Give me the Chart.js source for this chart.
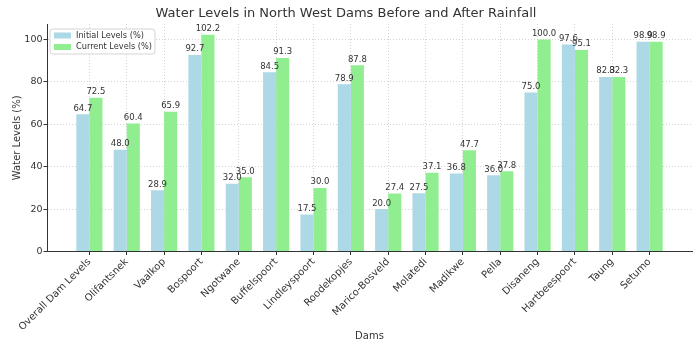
<!DOCTYPE html>
<html>
<head>
<meta charset="utf-8">
<title>Water Levels in North West Dams</title>
<script src="https://cdn.jsdelivr.net/npm/chart.js@4/dist/chart.umd.min.js"></script>
<style>
  html, body { margin: 0; padding: 0; background: #fff; }
</style>
</head>
<body>
<canvas id="grafico-represas" width="700" height="350"></canvas>
<script>
// Dados
const represas = ['Overall Dam Levels', 'Olifantsnek', 'Vaalkop', 'Bospoort', 'Ngotwane', 'Buffelspoort',
  'Lindleyspoort', 'Roodekopjes', 'Marico-Bosveld', 'Molatedi', 'Madikwe', 'Pella', 'Disaneng',
  'Hartbeespoort', 'Taung', 'Setumo'];
const niveisIniciais = [64.7, 48.0, 28.9, 92.7, 32.0, 84.5, 17.5, 78.9, 20.0, 27.5, 36.8, 36.0, 75.0, 97.6, 82.3, 98.9];
const niveisAtuais = [72.5, 60.4, 65.9, 102.2, 35.0, 91.3, 30.0, 87.8, 27.4, 37.1, 47.7, 37.8, 100.0, 95.1, 82.3, 98.9];
const marcasY = [0, 20, 40, 60, 80, 100];

const fonte = '"DejaVu Sans", sans-serif';
const corTexto = '#333';
const corGrade = 'rgba(175, 175, 175, 0.55)';

// Escreve o valor em cima de cada barra
const rotulosValores = {
  id: 'rotulosValores',
  afterDatasetsDraw(chart) {
    const ctx = chart.ctx;
    ctx.save();
    ctx.font = '8.5px ' + fonte;
    ctx.fillStyle = corTexto;
    ctx.textAlign = 'center';
    ctx.textBaseline = 'bottom';
    chart.data.datasets.forEach((ds, i) => {
      chart.getDatasetMeta(i).data.forEach((barra, j) => {
        ctx.fillText(ds.data[j].y.toFixed(1), barra.x, barra.y - 1.5);
      });
    });
    ctx.restore();
  }
};

// Legenda desenhada dentro da área do gráfico (canto superior esquerdo)
const legendaInterna = {
  id: 'legendaInterna',
  afterDraw(chart) {
    const ctx = chart.ctx;
    const area = chart.chartArea;
    const x = area.left + 3;
    const y = area.top + 5;
    ctx.save();
    ctx.beginPath();
    ctx.roundRect(x, y, 105, 25, 3);
    ctx.fillStyle = 'rgba(255, 255, 255, 0.8)';
    ctx.fill();
    ctx.strokeStyle = '#d5d5d5';
    ctx.lineWidth = 1;
    ctx.stroke();
    ctx.font = '8.2px ' + fonte;
    ctx.textBaseline = 'middle';
    chart.data.datasets.forEach((ds, i) => {
      const linha = y + 6.5 + i * 11.5;
      ctx.fillStyle = ds.backgroundColor;
      ctx.fillRect(x + 4, linha - 3, 17, 6);
      ctx.fillStyle = corTexto;
      ctx.fillText(ds.label, x + 26, linha);
    });
    ctx.restore();
  }
};

const ctx = document.getElementById('grafico-represas').getContext('2d');

new Chart(ctx, {
  type: 'bar',
  data: {
    datasets: [
      {
        label: 'Initial Levels (%)',
        backgroundColor: '#ADD8E6',
        data: niveisIniciais.map((v, i) => ({ x: i, y: v }))
      },
      {
        label: 'Current Levels (%)',
        backgroundColor: '#90EE90',
        data: niveisAtuais.map((v, i) => ({ x: i, y: v }))
      }
    ]
  },
  options: {
    responsive: false,
    animation: false,
    categoryPercentage: 0.7,
    barPercentage: 1.0,
    layout: { padding: { left: 0, right: 8, top: 0, bottom: 0 } },
    plugins: {
      legend: { display: false },
      tooltip: { enabled: false },
      title: {
        display: true,
        text: 'Water Levels in North West Dams Before and After Rainfall',
        color: corTexto,
        font: { family: fonte, size: 13, weight: 'normal' },
        padding: { top: 6, bottom: 2.4 }
      }
    },
    scales: {
      x: {
        type: 'linear',
        offset: false,
        min: -1.135,
        max: 16.135,
        afterBuildTicks: eixo => {
          eixo.ticks = represas.map((_, i) => ({ value: i }));
        },
        afterFit: eixo => { eixo.height = 98.5; },
        ticks: {
          autoSkip: false,
          maxRotation: 45,
          minRotation: 45,
          padding: 1,
          color: corTexto,
          font: { family: fonte, size: 10 },
          callback: v => represas[v]
        },
        grid: {
          offset: false,
          color: corGrade,
          tickColor: corTexto,
          tickBorderDash: [],
          tickLength: 3.5
        },
        border: { display: true, color: '#333', width: 1, dash: [1, 2] },
        title: {
          display: true,
          text: 'Dams',
          color: corTexto,
          font: { family: fonte, size: 10 },
          padding: { top: 4, bottom: 8 }
        }
      },
      y: {
        min: 0,
        max: 107.31,
        afterBuildTicks: eixo => {
          eixo.ticks = marcasY.map(v => ({ value: v }));
        },
        afterFit: eixo => { eixo.width = 47; },
        ticks: {
          padding: 1,
          color: corTexto,
          font: { family: fonte, size: 9.5 }
        },
        grid: {
          color: corGrade,
          tickColor: corTexto,
          tickBorderDash: [],
          tickLength: 3.5
        },
        border: { display: true, color: '#333', width: 1, dash: [1, 2] },
        title: {
          display: true,
          text: 'Water Levels (%)',
          color: corTexto,
          font: { family: fonte, size: 10 },
          padding: { top: 11, bottom: 4 }
        }
      }
    }
  },
  plugins: [rotulosValores, legendaInterna]
});
</script>
</body>
</html>
